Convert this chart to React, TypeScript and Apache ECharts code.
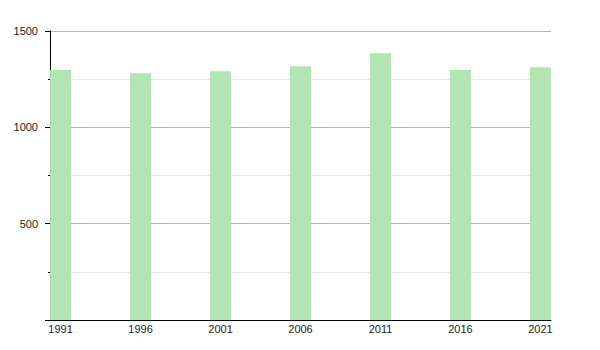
import React, { useEffect, useRef } from "react";
import * as echarts from "echarts";

const years = [1991, 1996, 2001, 2006, 2011, 2016, 2021];
const population = [1297, 1281, 1291, 1317, 1385, 1297, 1312];
const yTicks = [500, 1000, 1500];

export default function App() {
  const ref = useRef<HTMLDivElement>(null);
  useEffect(() => {
    if (!ref.current) return;
    const chart = echarts.init(ref.current, null, { renderer: "svg" });
    chart.setOption({
      animation: false,
      grid: { left: 50, right: 49, top: 31, bottom: 30, containLabel: false },
      xAxis: {
        type: "value",
        min: 1990.34,
        max: 2021.66,
        axisLine: { show: true, onZero: false, lineStyle: { color: "#000", width: 1 } },
        axisTick: { show: false },
        splitLine: { show: false },
        axisLabel: {
          customValues: years,
          formatter: (v: number) => String(v),
          color: "#222",
          fontFamily: "Liberation Sans, Arial, sans-serif",
          fontSize: 11,
          margin: 3,
        },
      },
      yAxis: {
        type: "value",
        min: 0,
        max: 1500,
        interval: 500,
        axisLine: { show: true, lineStyle: { color: "#000", width: 1 } },
        axisTick: { show: true, length: 5, lineStyle: { color: "#000" } },
        minorTick: { show: true, splitNumber: 2, length: 2, lineStyle: { color: "#000" } },
        splitLine: { show: true, lineStyle: { color: "#b4b4b4", width: 1 } },
        minorSplitLine: { show: true, lineStyle: { color: "#e8e8e8", width: 1 } },
        axisLabel: {
          color: "#222",
          fontFamily: "Liberation Sans, Arial, sans-serif",
          fontSize: 11,
          margin: 12,
          formatter: (v: number) => (yTicks.includes(v) ? String(v) : ""),
        },
      },
      series: [
        {
          type: "bar",
          barWidth: 21,
          data: years.map((y, i) => [y, population[i]]),
          itemStyle: { color: "#b2e5b2" },
        },
      ],
    });
    return () => chart.dispose();
  }, []);
  return (
    <div
      ref={ref}
      style={{ position: "fixed", left: 0, top: 0, width: 600, height: 350, background: "#fff" }}
    />
  );
}
